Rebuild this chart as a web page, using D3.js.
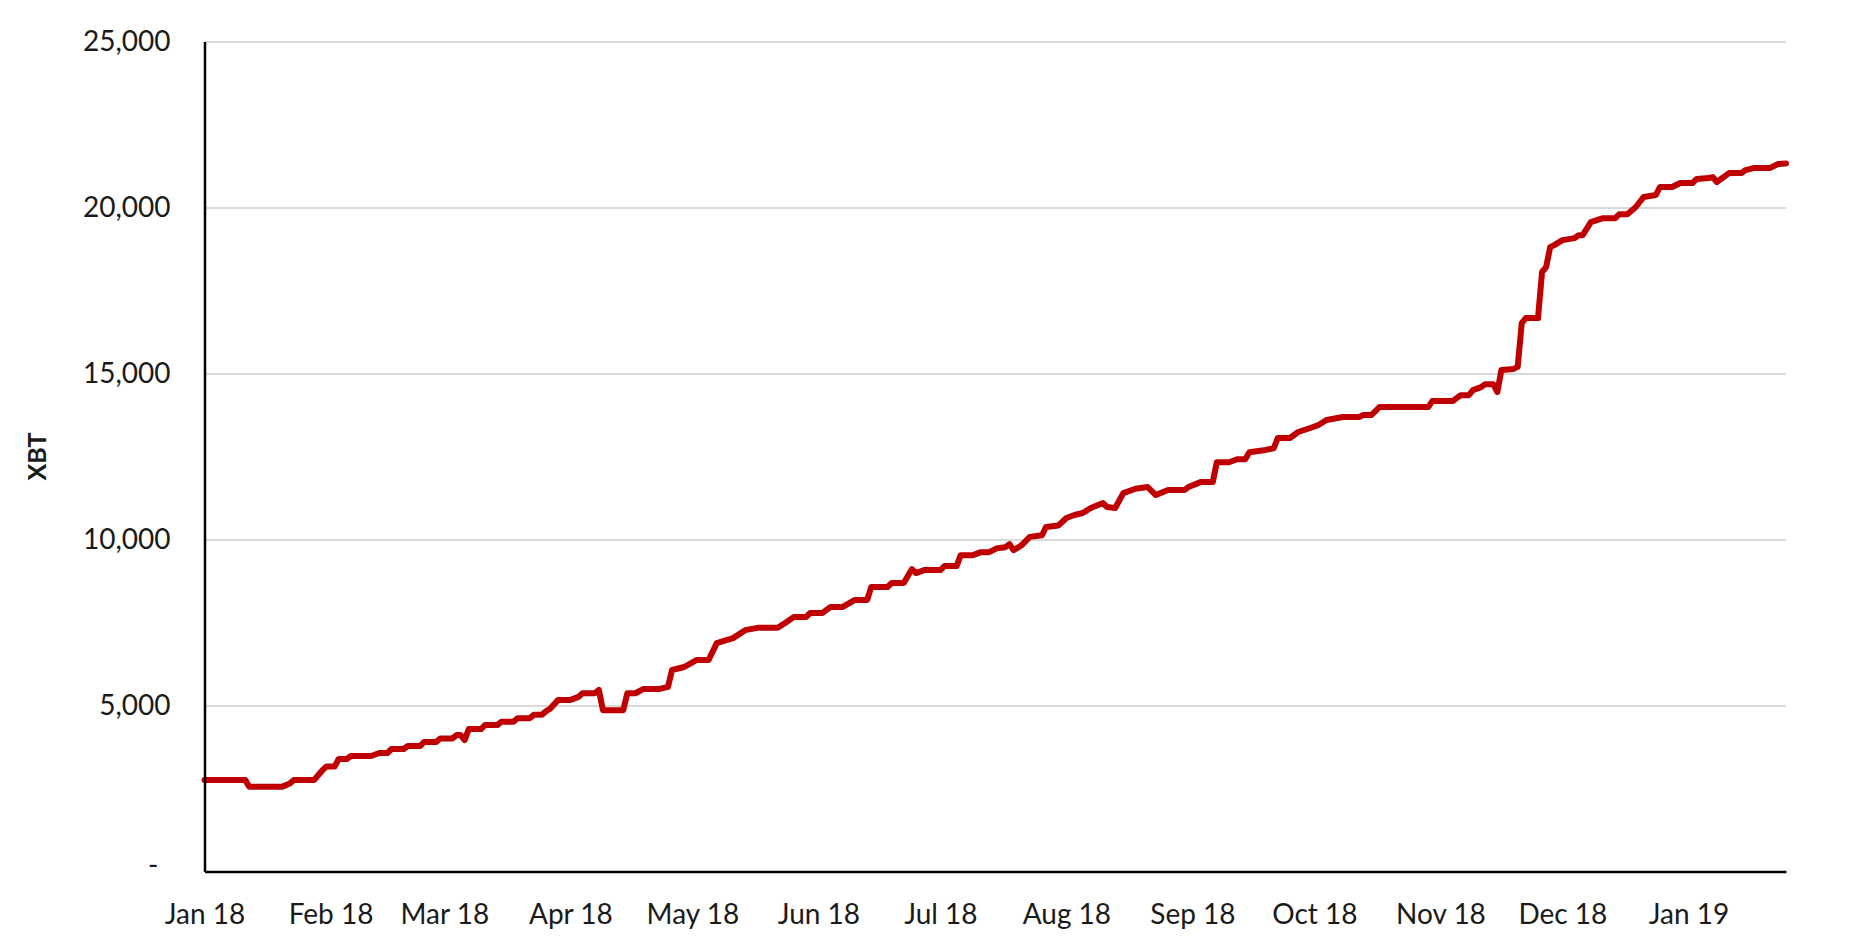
<!DOCTYPE html>
<html><head><meta charset="utf-8">
<script src="https://cdn.jsdelivr.net/npm/d3@7"></script>
<style>body{margin:0;background:#fff;} svg{display:block;}</style>
</head><body><svg id="c" width="1864" height="938"></svg>
<script>
const dates = ["2018-01-01","2018-01-11","2018-01-12","2018-01-20","2018-01-22","2018-01-23","2018-01-28","2018-01-30","2018-01-31","2018-02-02","2018-02-03","2018-02-05","2018-02-06","2018-02-11","2018-02-13","2018-02-15","2018-02-16","2018-02-19","2018-02-20","2018-02-23","2018-02-24","2018-02-27","2018-02-28","2018-03-03","2018-03-04","2018-03-05","2018-03-06","2018-03-07","2018-03-10","2018-03-11","2018-03-14","2018-03-15","2018-03-18","2018-03-19","2018-03-22","2018-03-23","2018-03-25","2018-03-26","2018-03-27","2018-03-29","2018-04-01","2018-04-03","2018-04-04","2018-04-07","2018-04-08","2018-04-09","2018-04-14","2018-04-15","2018-04-17","2018-04-19","2018-04-23","2018-04-25","2018-04-26","2018-04-29","2018-05-02","2018-05-05","2018-05-07","2018-05-11","2018-05-14","2018-05-17","2018-05-22","2018-05-24","2018-05-26","2018-05-29","2018-05-30","2018-06-02","2018-06-04","2018-06-07","2018-06-10","2018-06-13","2018-06-14","2018-06-18","2018-06-19","2018-06-22","2018-06-24","2018-06-25","2018-06-27","2018-07-01","2018-07-02","2018-07-05","2018-07-06","2018-07-09","2018-07-11","2018-07-13","2018-07-15","2018-07-17","2018-07-18","2018-07-19","2018-07-21","2018-07-23","2018-07-26","2018-07-27","2018-07-30","2018-08-01","2018-08-03","2018-08-05","2018-08-07","2018-08-10","2018-08-11","2018-08-13","2018-08-15","2018-08-18","2018-08-21","2018-08-23","2018-08-26","2018-08-30","2018-08-31","2018-09-03","2018-09-06","2018-09-07","2018-09-10","2018-09-12","2018-09-14","2018-09-15","2018-09-19","2018-09-21","2018-09-22","2018-09-25","2018-09-27","2018-09-30","2018-10-02","2018-10-04","2018-10-08","2018-10-12","2018-10-13","2018-10-15","2018-10-17","2018-10-29","2018-10-30","2018-11-04","2018-11-06","2018-11-08","2018-11-09","2018-11-11","2018-11-12","2018-11-14","2018-11-15","2018-11-16","2018-11-19","2018-11-20","2018-11-21","2018-11-22","2018-11-25","2018-11-26","2018-11-27","2018-11-28","2018-11-29","2018-12-01","2018-12-04","2018-12-05","2018-12-06","2018-12-08","2018-12-11","2018-12-14","2018-12-15","2018-12-17","2018-12-19","2018-12-21","2018-12-24","2018-12-25","2018-12-28","2018-12-30","2019-01-02","2019-01-03","2019-01-06","2019-01-07","2019-01-08","2019-01-11","2019-01-14","2019-01-15","2019-01-17","2019-01-21","2019-01-23","2019-01-25"];
const values = [2760,2760,2550,2550,2650,2760,2760,3050,3160,3160,3390,3390,3480,3480,3570,3570,3690,3690,3780,3780,3900,3900,4010,4010,4110,4110,3960,4290,4290,4410,4410,4510,4510,4620,4620,4720,4720,4830,4900,5170,5170,5260,5370,5370,5470,4860,4860,5370,5370,5500,5500,5560,6070,6160,6370,6370,6880,7030,7270,7340,7340,7500,7670,7670,7790,7790,7970,7970,8180,8180,8570,8570,8690,8690,9110,8990,9080,9080,9200,9200,9530,9530,9620,9620,9740,9770,9860,9680,9830,10080,10130,10380,10420,10650,10740,10800,10950,11100,10980,10950,11400,11530,11580,11340,11490,11490,11580,11730,11730,12330,12330,12420,12420,12630,12700,12750,13060,13060,13240,13360,13450,13600,13690,13690,13750,13750,13990,13990,14170,14170,14350,14350,14500,14590,14680,14680,14440,15110,15140,15200,16520,16670,16670,18060,18210,18810,18870,19020,19080,19170,19170,19560,19680,19680,19800,19800,20010,20320,20380,20620,20620,20740,20740,20860,20890,20920,20770,21040,21040,21130,21190,21190,21310,21330];
const yTicks = [0, 5000, 10000, 15000, 20000, 25000];
const monthTicks = ["2018-01-01","2018-02-01","2018-03-01","2018-04-01","2018-05-01","2018-06-01","2018-07-01","2018-08-01","2018-09-01","2018-10-01","2018-11-01","2018-12-01","2019-01-01"];
const xDomain = ["2018-01-01","2019-01-25"];
const yLabel = "XBT";

const parse = d3.timeParse("%Y-%m-%d");
const data = dates.map((d, i) => ({date: parse(d), value: values[i]}));

const L = 204.5, R = 1786, T = 41.6, B = 871.5;
const svg = d3.select("#c");
const x = d3.scaleTime().domain(xDomain.map(parse)).range([L, R]);
const y = d3.scaleLinear().domain([0, 25000]).range([B, T]);
const FONT = "Lato, 'Open Sans', sans-serif";

// gridlines
const grid = svg.append("g").attr("transform", `translate(${L},0)`)
  .call(d3.axisLeft(y).tickValues(yTicks.filter(v => v > 0)).tickSize(-(R - L)).tickFormat(""));
grid.select(".domain").remove();
grid.selectAll("line").attr("stroke", "#d9d9d9").attr("stroke-width", 2);

// line
svg.append("path").datum(data)
  .attr("fill", "none").attr("stroke", "#c00000").attr("stroke-width", 6)
  .attr("stroke-linejoin", "round").attr("stroke-linecap", "round")
  .attr("d", d3.line().x(d => x(d.date)).y(d => y(d.value)));

// y axis
const fmt = d3.format(",");
const ya = svg.append("g").attr("transform", `translate(${L},0)`)
  .call(d3.axisLeft(y).tickValues(yTicks).tickSize(0).tickPadding(34)
    .tickFormat(v => v === 0 ? "-" : fmt(v)));
ya.select(".domain").attr("stroke", "#000").attr("stroke-width", 2.5);
ya.selectAll("text").attr("font-family", FONT).attr("font-size", 28).attr("fill", "#1a1a1a");
ya.selectAll(".tick").filter(v => v === 0).select("text").attr("dx", -12).attr("dy", "0.1em");

// x axis
const xa = svg.append("g").attr("transform", `translate(0,${B})`)
  .call(d3.axisBottom(x).tickValues(monthTicks.map(parse)).tickSize(0).tickPadding(33)
    .tickFormat(d3.timeFormat("%b %y")));
xa.select(".domain").attr("stroke", "#000").attr("stroke-width", 2.5);
xa.selectAll("text").attr("font-family", FONT).attr("font-size", 28).attr("fill", "#1a1a1a");

// y label
svg.append("text").attr("transform", `translate(36,${(T + B) / 2}) rotate(-90)`)
  .attr("text-anchor", "middle").attr("dominant-baseline", "central")
  .attr("font-family", FONT).attr("font-weight", "bold").attr("font-size", 25).attr("fill", "#1a1a1a")
  .text(yLabel);
</script>
</body></html>
